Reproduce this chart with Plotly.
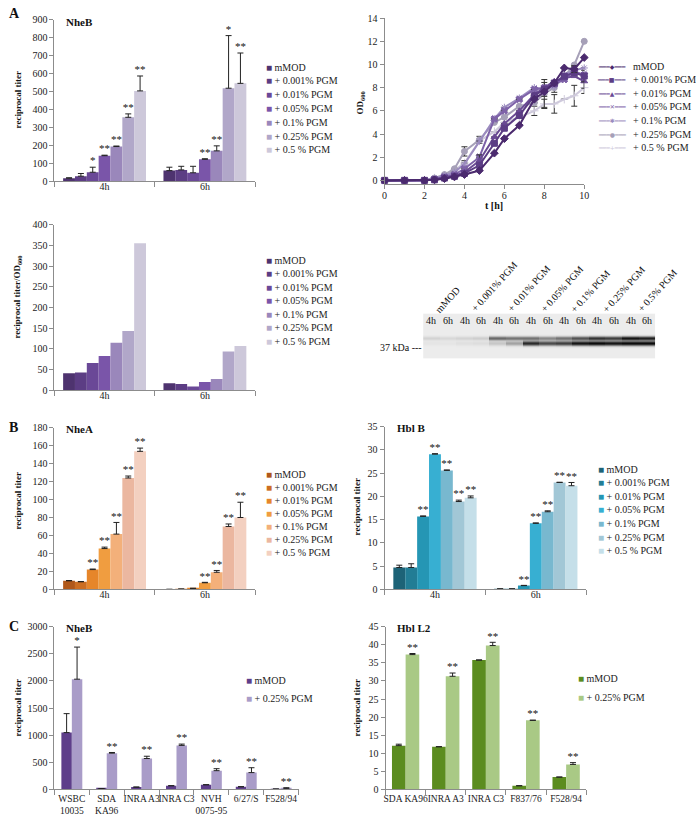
import math
import plotly.graph_objects as go

W, H = 696, 819
FONT = "Liberation Serif, Times New Roman, serif"
AX = "#8c8c8c"
TXT = "#222222"

# ---------------- data ----------------
conc_labels = ["mMOD", "+ 0.001% PGM", "+ 0.01% PGM", "+ 0.05% PGM",
               "+ 0.1% PGM", "+ 0.25% PGM", "+ 0.5 % PGM"]
time_groups = ["4h", "6h"]

# A: NheB reciprocal titer
nheb_4h = [18, 29, 51, 143, 194, 357, 504]
nheb_4h_err = [2, 15, 28, 3, 3, 19, 83]
nheb_4h_sig = ["", "", "*", "**", "**", "**", "**"]
nheb_6h = [60, 64, 48, 123, 170, 519, 546]
nheb_6h_err = [19, 20, 36, 3, 28, 293, 169]
nheb_6h_sig = ["", "", "", "**", "**", "*", "**"]

# A: reciprocal titer / OD600
ratio_4h = [41, 43, 66, 83, 115, 143, 355]
ratio_6h = [17, 15, 9, 20, 27, 94, 107]

# A: growth curves (OD600)
od_time = [0, 1, 2, 2.5, 3, 3.5, 4, 4.75, 5.5, 6, 6.75, 7.5, 8, 8.5, 9, 9.5, 10]
od_mmod = [0, 0, 0, 0.05, 0.15, 0.3, 0.5, 0.85, 2.35, 3.6, 4.75, 7.0, 7.65, 8.4, 9.7, 9.6, 10.6]
od_0001 = [0, 0, 0, 0.05, 0.2, 0.35, 0.6, 1.3, 3.2, 4.5, 5.6, 7.3, 7.85, 8.4, 9.0, 9.3, 9.0]
od_001 = [0, 0, 0, 0.1, 0.25, 0.4, 0.7, 1.7, 3.75, 4.9, 6.0, 7.4, 8.0, 8.55, 8.8, 9.0, 8.55]
od_005 = [0, 0, 0, 0.1, 0.3, 0.5, 1.0, 2.0, 5.3, 6.0, 7.0, 7.85, 8.0, 8.3, 8.7, 9.4, 9.1]
od_01 = [0, 0, 0, 0.15, 0.4, 0.7, 1.4, 3.4, 5.3, 6.3, 7.1, 8.0, 7.85, 8.1, 9.1, 9.5, 9.7]
od_025 = [0, 0, 0, 0.2, 0.5, 1.0, 2.5, 3.5, 5.0, 5.45, 6.4, 6.7, 7.5, 8.0, 9.0, 9.96, 12.0]
od_05 = [0, 0, 0, 0.2, 0.45, 0.9, 1.5, 3.4, 4.2, 5.0, 5.45, 6.0, 6.6, 6.6, 7.0, 7.3, 8.0]
od_err_mmod = [0, 0, 0, 0, 0, 0, 0, 0, 0, 0, 0, 0, 0, 0, 0, 0.3, 0]
od_err_0001 = [0, 0, 0, 0, 0, 0, 0, 0, 0, 0, 0, 0, 0, 0, 0, 0, 0.5]
od_err_001 = [0, 0, 0, 0, 0, 0, 0, 0.5, 0, 0, 0, 0, 0, 0, 0, 0, 0.6]
od_err_005 = [0, 0, 0, 0, 0, 0, 0, 0, 0, 0, 0, 0, 0, 0, 0, 0.4, 0]
od_err_01 = [0, 0, 0, 0, 0, 0, 0.3, 0, 0, 0, 0, 0, 0.6, 0, 0, 0, 0]
od_err_025 = [0, 0, 0, 0, 0, 0, 0.4, 0.3, 0, 0, 0, 0, 1.2, 0.4, 0, 0, 0]
od_err_05 = [0, 0, 0, 0, 0, 0, 0, 0, 0, 0, 0, 0.4, 0.4, 0.8, 0, 0.9, 0.5]

# A: western blot band intensities (lanes: 4h, 6h for each condition)
gel_lane_labels = ["4h", "6h"] * 7
gel_group_labels = ["mMOD", "+ 0.001% PGM", "+ 0.01% PGM", "+ 0.05% PGM",
                    "+ 0.1% PGM", "+ 0.25% PGM", "+ 0.5% PGM"]
gel_upper = [0.10, 0.08, 0.10, 0.12, 0.55, 0.50, 0.50, 0.40, 0.50, 0.65, 0.80, 0.75, 0.95, 0.90]
gel_lower = [0.03, 0.03, 0.05, 0.06, 0.15, 0.30, 0.85, 0.70, 0.75, 0.95, 1.00, 0.95, 1.00, 1.00]

# B: NheA
nhea_4h = [9.5, 8.4, 22, 45.4, 61.5, 124, 153.7]
nhea_4h_err = [0.3, 0.3, 0.6, 1.6, 13, 2.2, 3.6]
nhea_4h_sig = ["", "", "**", "**", "**", "**", "**"]
nhea_6h = [0, 0.3, 1.1, 7.3, 19, 70, 80]
nhea_6h_err = [0, 0, 0, 0.5, 2, 2.8, 17]
nhea_6h_sig = ["", "", "", "**", "**", "**", "**"]

# B: Hbl B
hblb_4h = [4.7, 4.7, 15.7, 29.1, 25.6, 18.9, 19.7]
hblb_4h_err = [0.5, 0.8, 0.1, 0.1, 0.1, 0.3, 0.4]
hblb_4h_sig = ["", "", "**", "**", "**", "**", "**"]
hblb_6h = [0.1, 0.1, 0.8, 14.2, 16.7, 23.0, 22.3]
hblb_6h_err = [0, 0, 0.05, 0.1, 0.2, 0.05, 0.7]
hblb_6h_sig = ["", "", "**", "**", "**", "**", "**"]

# C: NheB strains
strain_nheb = ["WSBC<br>10035", "SDA<br>KA96", "INRA A3", "INRA C3", "NVH<br>0075-95", "6/27/S", "F528/94"]
strain_series = ["mMOD", "+ 0.25% PGM"]
c_nheb_mmod = [1047, 15, 42, 67, 85, 48, 6]
c_nheb_mmod_err = [350, 0, 0, 0, 0, 0, 0]
c_nheb_pgm = [2033, 668, 569, 811, 345, 309, 18]
c_nheb_pgm_err = [592, 12, 42, 24, 36, 90, 12]
c_nheb_pgm_sig = ["*", "**", "**", "**", "**", "**", "**"]

# C: Hbl L2 strains
strain_hbl = ["SDA KA96", "INRA A3", "INRA C3", "F837/76", "F528/94"]
c_hbl_mmod = [12.1, 11.8, 35.8, 1.0, 3.4]
c_hbl_mmod_err = [0.4, 0, 0, 0, 0]
c_hbl_pgm = [37.3, 31.3, 39.8, 19.1, 6.9]
c_hbl_pgm_err = [0.3, 0.9, 0.9, 0.05, 0.5]
c_hbl_pgm_sig = ["**", "**", "**", "**", "**"]

# colours
purple = ["#4e336f", "#5c3d84", "#6a4897", "#7a55a9", "#9a87bb", "#b1a7c9", "#cdc8da"]
line_purple = ["#4b2a6e", "#5c3d85", "#6a4a94", "#7e62a8", "#9c8cc0", "#a6a0b8", "#cfcadc"]
orange = ["#b0581a", "#cc6e22", "#e6862a", "#f09d40", "#f3b07a", "#ebb7a0", "#f3d0c0"]
teal = ["#1d6377", "#227d95", "#2596b4", "#37afd2", "#78b8cf", "#a2c7d6", "#c5dfe9"]
c_purple = ["#5e3e8a", "#a99cc8"]
c_green = ["#5b8c1f", "#a9c985"]
od_symbols = ["diamond", "square", "triangle-up", "x", "asterisk-open", "circle", "cross-thin-open"]
od_legend_glyph = ["◆", "■", "▲", "✕", "✱", "●", "+"]

# ---------------- helpers ----------------
fig = go.Figure()


def dom_x(a, b):
    return [a / W, b / W]


def dom_y(top, bottom):
    return [1 - bottom / H, 1 - top / H]


def names(n):
    if n == 1:
        return "x", "y", "xaxis", "yaxis"
    return f"x{n}", f"y{n}", f"xaxis{n}", f"yaxis{n}"


def tickfont(size=10):
    return dict(family=FONT, size=size, color=TXT)


def bar_panel(n, cats, vals, errs, sigs, colors, series_names, bw, xdom, ydom, yrange, dtick,
              xfont=10, standoff=-4):
    xr, yr, xk, yk = names(n)
    k = len(vals)
    ncat = len(cats)
    for s in range(k):
        xs = [g + (s - (k - 1) / 2) * bw for g in range(ncat)]
        e = errs[s] if errs else None
        err = None
        if e is not None:
            err = dict(type="data", array=e, arrayminus=[0] * ncat, symmetric=False,
                       color="#222", thickness=1, width=3)
        fig.add_trace(go.Bar(x=xs, y=vals[s], width=bw, name=series_names[s],
                             marker=dict(color=colors[s], line=dict(width=0)),
                             error_y=err, xaxis=xr, yaxis=yr, showlegend=False))
        if sigs and sigs[s]:
            idx = [i for i in range(ncat) if sigs[s][i]]
            tops = [vals[s][i] + (e[i] if e else 0) for i in idx]
            fig.add_trace(go.Scatter(x=[xs[i] for i in idx], y=tops, mode="text",
                                     text=[sigs[s][i] for i in idx],
                                     textposition="top center",
                                     textfont=dict(family=FONT, size=11, color="#111"),
                                     xaxis=xr, yaxis=yr, showlegend=False,
                                     hoverinfo="skip", cliponaxis=False))
    fig.update_layout(**{
        xk: dict(domain=dom_x(*xdom), anchor=yr, range=[-0.5, ncat - 0.5],
                 tickmode="array", tickvals=list(range(ncat)), ticktext=cats, ticks="",
                 tickangle=0, automargin=False, ticklabelstandoff=standoff,
                 showline=True, linecolor=AX, linewidth=1, showgrid=False, zeroline=False,
                 tickfont=tickfont(xfont), fixedrange=True,
                 minor=dict(tickmode="array", tickvals=[i - 0.5 for i in range(ncat + 1)],
                            ticks="outside", ticklen=5, tickcolor=AX, showgrid=False)),
        yk: dict(domain=dom_y(*ydom), anchor=xr, range=yrange, dtick=dtick, tick0=0,
                 ticks="outside", ticklen=4, tickcolor=AX, showline=True, linecolor=AX,
                 linewidth=1, showgrid=False, zeroline=False, tickfont=tickfont(),
                 fixedrange=True),
    })


def square_legend(x_left, y_first, step, labels, colors):
    for i, (lab, c) in enumerate(zip(labels, colors)):
        fig.add_annotation(x=x_left / W, y=1 - (y_first + i * step) / H, xref="paper", yref="paper",
                           xanchor="left", yanchor="middle", showarrow=False,
                           text=f'<span style="color:{c}">■</span> {lab}',
                           font=dict(family=FONT, size=10, color=TXT))


def text_at(x, y, text, size=10, bold=False, angle=0, xanchor="center", yanchor="middle"):
    fig.add_annotation(x=x / W, y=1 - y / H, xref="paper", yref="paper", showarrow=False,
                       xanchor=xanchor, yanchor=yanchor, textangle=angle,
                       text=f"<b>{text}</b>" if bold else text,
                       font=dict(family=FONT, size=size, color="#111"))


def by_series(a, b):
    return [[a[i], b[i]] for i in range(len(a))]


# ---------------- A: NheB ----------------
bar_panel(1, time_groups, by_series(nheb_4h, nheb_6h), by_series(nheb_4h_err, nheb_6h_err),
          by_series(nheb_4h_sig, nheb_6h_sig), purple, conc_labels, 0.118,
          (52, 255), (14, 178), [0, 900], 100)

# ---------------- A: growth curves ----------------
od_series = [od_mmod, od_0001, od_001, od_005, od_01, od_025, od_05]
od_errs = [od_err_mmod, od_err_0001, od_err_001, od_err_005, od_err_01, od_err_025, od_err_05]
for s in reversed(range(7)):
    fig.add_trace(go.Scatter(
        x=od_time, y=od_series[s], mode="lines+markers", name=conc_labels[s],
        line=dict(color=line_purple[s], width=2),
        marker=dict(symbol=od_symbols[s], size=6, color=line_purple[s],
                    line=dict(color=line_purple[s], width=1)),
        error_y=dict(type="data", array=od_errs[s], color="#333", thickness=1, width=3),
        xaxis="x2", yaxis="y2", showlegend=False, cliponaxis=False))
fig.update_layout(
    xaxis2=dict(domain=dom_x(386, 588), anchor="y2", range=[0, 10], dtick=2, tick0=0,
                ticks="outside", ticklen=4, tickcolor=AX, showline=True, linecolor=AX,
                ticklabelstandoff=-2,
                showgrid=False, zeroline=False, tickfont=tickfont(), fixedrange=True),
    yaxis2=dict(domain=dom_y(12.3, 180.5), anchor="x2", range=[-0.3, 14], dtick=2, tick0=0,
                ticks="outside", ticklen=4, tickcolor=AX, showline=True, linecolor=AX,
                showgrid=False, zeroline=False, tickfont=tickfont(), fixedrange=True),
)
for i, lab in enumerate(conc_labels):
    c = line_purple[i]
    yy = 1 - (61 + i * 13.8) / H
    fig.add_annotation(x=616 / W, y=yy, xref="paper", yref="paper",
                       xanchor="center", yanchor="middle", showarrow=False,
                       text=f"━━━{od_legend_glyph[i]}━━━",
                       font=dict(family="DejaVu Sans", size=6, color=c))
    fig.add_annotation(x=635 / W, y=yy, xref="paper", yref="paper",
                       xanchor="left", yanchor="middle", showarrow=False,
                       text=lab, font=dict(family=FONT, size=10, color=TXT))

# ---------------- A: titer / OD ----------------
bar_panel(3, time_groups, by_series(ratio_4h, ratio_6h), None, None, purple, conc_labels, 0.118,
          (52, 255), (222, 390), [0, 400], 50)

# ---------------- A: western blot ----------------
gel_rows = list(range(46))
gel_z = [[min(1.0, gel_upper[l] * math.exp(-((r - 25) / 2.0) ** 2)
              + gel_lower[l] * math.exp(-((r - 30) / 2.3) ** 2))
          for l in range(len(gel_upper))] for r in gel_rows]
fig.add_trace(go.Heatmap(z=gel_z, x=list(range(len(gel_upper))), y=gel_rows,
                         colorscale=[[0, "#ececec"], [0.4, "#8a8a8a"], [1, "#0c0c0c"]],
                         zmin=0, zmax=1, showscale=False, xaxis="x4", yaxis="y4",
                         hoverinfo="skip"))
fig.update_layout(
    xaxis4=dict(domain=dom_x(425, 660), anchor="y4", range=[-0.5, 13.5], visible=False,
                fixedrange=True),
    yaxis4=dict(domain=dom_y(312, 358), anchor="x4", range=[45.5, -0.5], visible=False,
                fixedrange=True),
)
for l, lab in enumerate(gel_lane_labels):
    fig.add_annotation(x=l, y=7, xref="x4", yref="y4", showarrow=False, text=lab,
                       font=dict(family=FONT, size=10, color="#111"))
gel_label_pos = [(450, 298), (497, 285), (532, 287), (566, 287), (594, 290), (628, 288), (662, 289)]
for lab, (px, py) in zip(gel_group_labels, gel_label_pos):
    text_at(px, py, lab, size=10, angle=-48)
text_at(403, 347, "37 kDa ---", size=10)

# ---------------- B: NheA ----------------
bar_panel(5, time_groups, by_series(nhea_4h, nhea_6h), by_series(nhea_4h_err, nhea_6h_err),
          by_series(nhea_4h_sig, nhea_6h_sig), orange, conc_labels, 0.118,
          (52, 255), (428, 592), [0, 180], 20)

# ---------------- B: Hbl B ----------------
bar_panel(6, time_groups, by_series(hblb_4h, hblb_6h), by_series(hblb_4h_err, hblb_6h_err),
          by_series(hblb_4h_sig, hblb_6h_sig), teal, conc_labels, 0.118,
          (386, 590), (427, 592), [0, 35], 5)

# ---------------- C: NheB strains ----------------
bar_panel(7, strain_nheb, [c_nheb_mmod, c_nheb_pgm], [c_nheb_mmod_err, c_nheb_pgm_err],
          [None, c_nheb_pgm_sig], c_purple, strain_series, 0.30,
          (52, 299), (630, 795), [0, 3000], 500, xfont=9.5, standoff=0)

# ---------------- C: Hbl L2 strains ----------------
bar_panel(8, strain_hbl, [c_hbl_mmod, c_hbl_pgm], [c_hbl_mmod_err, c_hbl_pgm_err],
          [None, c_hbl_pgm_sig], c_green, strain_series, 0.34,
          (387, 590), (630, 795), [0, 45], 5, xfont=9.5, standoff=0)

# ---------------- legends ----------------
square_legend(264, 62, 14, conc_labels, purple)
square_legend(264, 258, 13.7, conc_labels, purple)
square_legend(264, 475, 13.2, conc_labels, orange)
square_legend(600, 470, 13.8, conc_labels, teal)
square_legend(244, 685, 18, strain_series, c_purple)
square_legend(580, 683, 19, strain_series, c_green)

# ---------------- titles / labels ----------------
text_at(4, 8, "A", size=14, bold=True, xanchor="left")
text_at(4, 428, "B", size=14, bold=True, xanchor="left")
text_at(4, 630, "C", size=14, bold=True, xanchor="left")
text_at(62, 16, "NheB", size=11, bold=True, xanchor="left")
text_at(62, 429, "NheA", size=11, bold=True, xanchor="left")
text_at(397, 428, "Hbl B", size=11, bold=True, xanchor="left")
text_at(62, 631, "NheB", size=11, bold=True, xanchor="left")
text_at(397, 631, "Hbl L2", size=11, bold=True, xanchor="left")

text_at(15, 95, "reciprocal titer", size=9, bold=True, angle=-90)
text_at(15, 295, "reciprocal titer/OD<sub>600</sub>", size=9, bold=True, angle=-90)
text_at(15, 502, "reciprocal titer", size=9, bold=True, angle=-90)
text_at(358, 508, "reciprocal titer", size=9, bold=True, angle=-90)
text_at(15, 712, "reciprocal titer", size=9, bold=True, angle=-90)
text_at(358, 712, "reciprocal titer", size=9, bold=True, angle=-90)
text_at(362, 98, "OD<sub>600</sub>", size=9, bold=True, angle=-90)
text_at(497, 202, "t [h]", size=10, bold=True)

fig.update_layout(
    width=W, height=H, margin=dict(l=0, r=0, t=0, b=0),
    paper_bgcolor="white", plot_bgcolor="white",
    barmode="overlay", showlegend=False,
    font=dict(family=FONT, size=10, color=TXT),
)

fig.write_html("out.html", config={"displayModeBar": False},
               post_script="document.body.style.margin='0';")
